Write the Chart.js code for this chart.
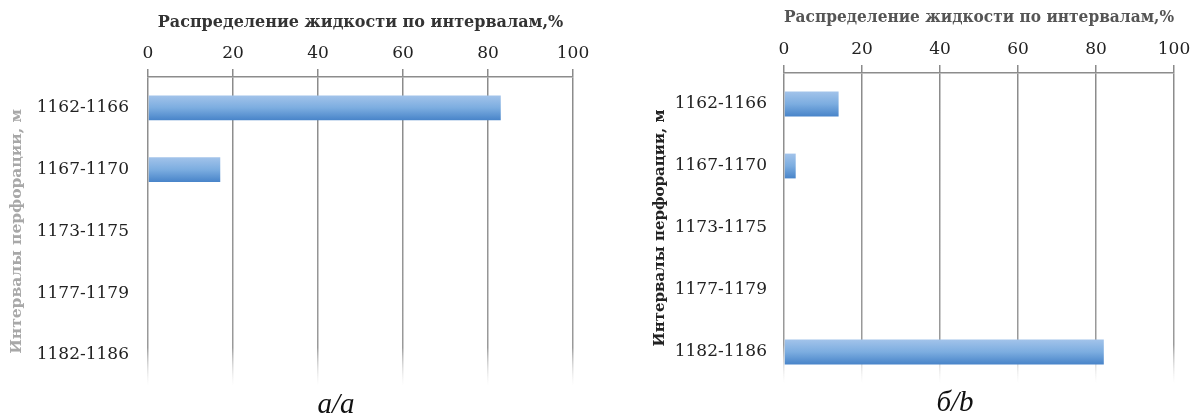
<!DOCTYPE html>
<html><head><meta charset="utf-8">
<script src="https://cdn.jsdelivr.net/npm/chart.js@4.4.1/dist/chart.umd.min.js"></script>
<style>
html,body{margin:0;padding:0;background:#fff;width:1200px;height:415px;overflow:hidden;position:relative}
canvas{position:absolute;top:0}
#c1{left:0} #c2{left:600px}
.cap{position:absolute;font-family:"Liberation Serif",serif;font-style:italic;font-size:29px;line-height:29px;color:#111;transform:translateX(-50%)}
</style></head><body>
<canvas id="c1" width="600" height="415"></canvas>
<canvas id="c2" width="600" height="415"></canvas>
<div class="cap" style="left:336px;top:389px">а/a</div>
<div class="cap" style="left:955px;top:387px">б/b</div>
<script>
const intervals = ['1162-1166','1167-1170','1173-1175','1177-1179','1182-1186'];
const shareA = [83, 17, 0, 0, 0];
const shareB = [14, 3, 0, 0, 82];
const xTicks = [0, 20, 40, 60, 80, 100];
const xTitle = 'Распределение жидкости по интервалам,%';
const yTitle = 'Интервалы перфорации, м';

function barFill(ctx){
  const chart = ctx.chart, y = chart.scales && chart.scales.y;
  if (ctx.type !== 'data' || !y) return '#6fa3da';
  const cy = y.getPixelForValue(ctx.dataIndex);
  const step = Math.abs(y.getPixelForValue(1) - y.getPixelForValue(0));
  if (!isFinite(cy) || !isFinite(step) || step === 0) return '#6fa3da';
  const h = step * 0.4 / 2;
  const g = chart.ctx.createLinearGradient(0, cy - h, 0, cy + h);
  g.addColorStop(0, '#a2c3ea');
  g.addColorStop(0.5, '#7cade0');
  g.addColorStop(1, '#4884c9');
  return g;
}
function gridFade(ctx){
  const chart = ctx.chart, a = chart.chartArea;
  if (!a) return '#8c8c8c';
  const g = chart.ctx.createLinearGradient(0, a.top - 10, 0, a.bottom);
  g.addColorStop(0, '#8a8a8a');
  g.addColorStop(0.88, '#9a9a9a');
  g.addColorStop(1, 'rgba(220,220,220,0)');
  return g;
}

function makeChart(id, values, cfg){
  return new Chart(document.getElementById(id), {
    type: 'bar',
    data: { labels: intervals, datasets: [{ data: values, backgroundColor: barFill, borderWidth: 0, categoryPercentage: 1, barPercentage: 0.4 }] },
    options: {
      indexAxis: 'y', responsive: false, animation: false, devicePixelRatio: 1,
      layout: { padding: { left: 0, right: cfg.padRight, top: 0, bottom: cfg.padBottom } },
      plugins: { legend: { display: false }, tooltip: { enabled: false } },
      scales: {
        x: {
          position: 'top', min: 0, max: 100,
          afterBuildTicks: s => { s.ticks = xTicks.map(v => ({ value: v })); },
          afterFit: s => { s.height = cfg.top; },
          grid: { color: gridFade, lineWidth: 1.5, drawTicks: true, tickLength: 8 },
          border: { display: true, color: '#8c8c8c', width: 1.5 },
          ticks: { font: { family: 'DejaVu Serif', size: 17 }, color: '#222', padding: 5 },
          title: { display: true, text: xTitle, font: { family: 'DejaVu Serif', size: 16, weight: 'bold' }, color: cfg.titleColor, padding: { top: cfg.titlePad, bottom: 0 } }
        },
        y: {
          afterFit: s => { s.width = cfg.left; },
          grid: { display: false, drawTicks: false },
          border: { display: false },
          ticks: { font: { family: 'DejaVu Serif', size: 17 }, color: '#222', padding: cfg.labelPad },
          title: { display: true, text: yTitle, font: { family: 'DejaVu Serif', size: cfg.yTitleSize, weight: 'bold' }, color: cfg.yTitleColor, padding: { top: cfg.yTitlePad, bottom: 0 } }
        }
      }
    }
  });
}

makeChart('c1', shareA, { left: 148, top: 77, padRight: 27, padBottom: 29, titlePad: 13, titleColor: '#333', labelPad: 19, yTitleColor: '#a8a8a8', yTitlePad: 8, yTitleSize: 15.5 });
makeChart('c2', shareB, { left: 184, top: 73, padRight: 26, padBottom: 32, titlePad: 8, titleColor: '#555', labelPad: 17, yTitleColor: '#222', yTitlePad: 51, yTitleSize: 15 });
</script>
</body></html>
